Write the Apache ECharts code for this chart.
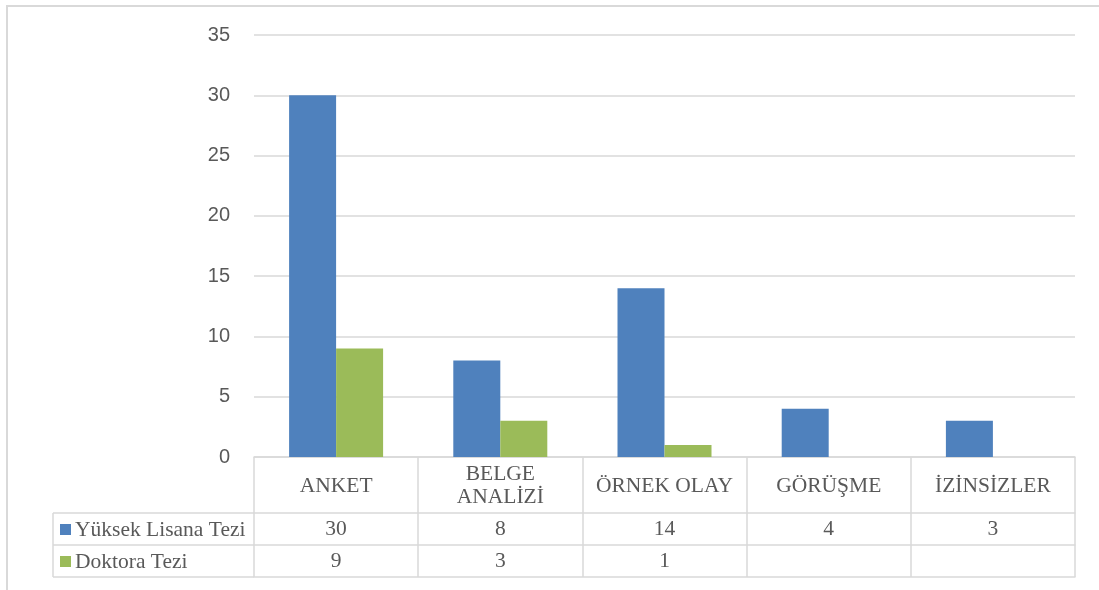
<!DOCTYPE html>
<html>
<head>
<meta charset="utf-8">
<script src="https://cdn.jsdelivr.net/npm/echarts@6/dist/echarts.min.js"></script>
<style>
  html, body { margin: 0; padding: 0; background: #fff; }
  #chart { width: 1099px; height: 590px; }
</style>
</head>
<body>
<div id="chart"></div>
<script>
// Thesis counts by research method
const categories = ['ANKET', 'BELGE\nANALİZİ', 'ÖRNEK OLAY', 'GÖRÜŞME', 'İZİNSİZLER'];
const seriesNames = ['Yüksek Lisana Tezi', 'Doktora Tezi'];
const yuksekLisans = [30, 8, 14, 4, 3];
const doktora = [9, 3, 1, null, null];
const yTicks = { min: 0, max: 35, interval: 5 };

const colors = ['#4f81bd', '#9bbb59'];
const lineColor = '#d9d9d9';
const textColor = '#595959';
const serif = '"Liberation Serif", "Times New Roman", serif';
const sans = '"Liberation Sans", Arial, sans-serif';
const tableFontSize = 21.5;

const G = { left: 254, right: 24, top: 35, bottom: 133 };
const headerH = 56, rowH = 32;

// Data-table rows drawn as extra category axes under the plot
function tableAxis(offset, tickLen, values) {
  return {
    type: 'category',
    data: categories,
    position: 'bottom',
    offset: offset,
    axisLine: { show: true, lineStyle: { color: lineColor, width: 1.5 } },
    axisTick: { show: tickLen > 0, length: tickLen, lineStyle: { color: lineColor, width: 1.5 } },
    axisLabel: {
      show: !!values,
      interval: 0,
      margin: rowH / 2,
      verticalAlign: 'middle',
      fontFamily: serif,
      fontSize: tableFontSize,
      color: textColor,
      formatter: (v, i) => (values && values[i] != null ? String(values[i]) : '')
    },
    splitLine: { show: false }
  };
}

const chart = echarts.init(document.getElementById('chart'), null, { renderer: 'canvas' });

const tableLeft = 53;
const r1 = 590 - G.bottom + headerH;   // top of first data row
const r2 = r1 + rowH;
const r3 = r2 + rowH;

// Series-name column: colour key + name, one per table row
const rowKeys = [];
seriesNames.forEach((name, i) => {
  const mid = r1 + rowH * i + rowH / 2;
  rowKeys.push({
    type: 'rect', silent: true,
    shape: { x: tableLeft + 7, y: mid - 5, width: 11, height: 11 },
    style: { fill: colors[i] }
  });
  rowKeys.push({
    type: 'text', silent: true,
    x: tableLeft + 22, y: mid + 1,
    style: {
      text: name, fill: textColor,
      font: tableFontSize + 'px "Liberation Serif", "Times New Roman", serif',
      verticalAlign: 'middle', align: 'left'
    }
  });
});

chart.setOption({
  animation: false,
  backgroundColor: '#fff',
  textStyle: { fontFamily: serif },
  grid: { left: G.left, right: G.right, top: G.top, bottom: G.bottom, containLabel: false },
  xAxis: [
    {
      type: 'category',
      data: categories,
      axisLine: { show: true, lineStyle: { color: lineColor, width: 1.5 } },
      axisTick: { show: true, length: headerH, lineStyle: { color: lineColor, width: 1.5 } },
      axisLabel: {
        interval: 0,
        margin: headerH / 2 + 1,
        fontFamily: serif,
        fontSize: tableFontSize,
        lineHeight: 23,
        color: textColor,
        verticalAlign: 'middle'
      }
    },
    tableAxis(headerH, rowH, yuksekLisans),
    tableAxis(headerH + rowH, rowH, doktora),
    tableAxis(headerH + 2 * rowH, 0, null)
  ],
  yAxis: {
    type: 'value',
    min: yTicks.min,
    max: yTicks.max,
    interval: yTicks.interval,
    axisLine: { show: false },
    axisTick: { show: false },
    axisLabel: { margin: 24, fontFamily: sans, fontSize: 20, color: textColor },
    splitLine: { lineStyle: { color: lineColor, width: 1.5 } }
  },
  series: [
    {
      name: seriesNames[0],
      type: 'bar',
      data: yuksekLisans,
      barWidth: 47,
      barGap: '0%',
      itemStyle: { color: colors[0] }
    },
    {
      name: seriesNames[1],
      type: 'bar',
      data: doktora,
      barWidth: 47,
      barGap: '0%',
      itemStyle: { color: colors[1] }
    }
  ],
  graphic: [
    // outer chart frame (top and left edges)
    { type: 'polyline', shape: { points: [[7, 590], [7, 6], [1099, 6]] }, style: { stroke: lineColor, lineWidth: 2, fill: null }, silent: true },
    // series-name column of the data table
    { type: 'line', shape: { x1: tableLeft, y1: r1, x2: G.left, y2: r1 }, style: { stroke: lineColor, lineWidth: 1.5 }, silent: true },
    { type: 'line', shape: { x1: tableLeft, y1: r2, x2: G.left, y2: r2 }, style: { stroke: lineColor, lineWidth: 1.5 }, silent: true },
    { type: 'line', shape: { x1: tableLeft, y1: r3, x2: G.left, y2: r3 }, style: { stroke: lineColor, lineWidth: 1.5 }, silent: true },
    { type: 'line', shape: { x1: tableLeft, y1: r1, x2: tableLeft, y2: r3 }, style: { stroke: lineColor, lineWidth: 1.5 }, silent: true },
    ...rowKeys
  ]
});
</script>
</body>
</html>
